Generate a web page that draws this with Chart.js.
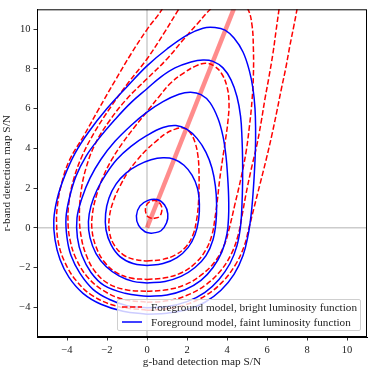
<!DOCTYPE html>
<html>
<head>
<meta charset="utf-8">
<script src="https://cdn.jsdelivr.net/npm/chart.js@4"></script>
<style>
  body { margin:0; background:#fff; }
  #wrap { position:relative; width:374px; height:374px; }
  #legend {
    position:absolute; left:117px; top:299px; width:242px; height:30px;
    background:rgba(255,255,255,0.8); border:1px solid #cfcfcf; border-radius:2px;
    font:11.2px "Liberation Serif", serif; color:#222;
  }
  .row { position:absolute; left:0; height:14px; white-space:nowrap; }
  .row svg { position:absolute; left:3px; top:2px; }
  .row span { position:absolute; left:33px; top:0; line-height:14px; }
</style>
</head>
<body>
<div id="wrap">
  <canvas id="chart" width="374" height="374"></canvas>
  <div id="legend">
    <div class="row" style="top:0px">
      <svg width="22" height="10"><line x1="1" y1="5" x2="21" y2="5" stroke="#ff0000" stroke-width="1.5" stroke-dasharray="5.5 2.4"/></svg>
      <span>Foreground model, bright luminosity function</span>
    </div>
    <div class="row" style="top:15px">
      <svg width="22" height="10"><line x1="1" y1="5" x2="21" y2="5" stroke="#0000ff" stroke-width="1.5"/></svg>
      <span>Foreground model, faint luminosity function</span>
    </div>
  </div>
</div>
<script>
// axis ranges and ticks
const xRange = [-5.5, 11];
const yRange = [-5.5, 11];
const xTicks = [-4, -2, 0, 2, 4, 6, 8, 10];
const yTicks = [-4, -2, 0, 2, 4, 6, 8, 10];

// contours, faint luminosity function (blue)
const faint1 = [[0.26,-0.28],[0.7,-0.15],[0.98,0.25],[1.04,0.7],[0.88,1.15],[0.5,1.42],[0.05,1.38],[-0.35,1.1],[-0.53,0.6],[-0.42,0.12],[-0.1,-0.2],[0.26,-0.28]];
const faint2 = [[0,-1.9],[0.8,-1.8],[1.5,-1.5],[2.05,-1.0],[2.4,-0.35],[2.58,0.4],[2.62,1.2],[2.52,2.0],[2.25,2.65],[1.85,3.15],[1.35,3.45],[0.8,3.52],[0.2,3.42],[-0.45,3.15],[-1.05,2.75],[-1.55,2.2],[-1.9,1.5],[-2.07,0.7],[-2.05,-0.1],[-1.8,-0.85],[-1.35,-1.45],[-0.7,-1.8],[0,-1.9]];
const faint3 = [[0,-2.78],[0.9,-2.7],[1.7,-2.45],[2.4,-2.0],[2.95,-1.4],[3.3,-0.6],[3.45,0.3],[3.48,1.2],[3.42,2.1],[3.25,3.0],[2.95,3.8],[2.5,4.5],[2.0,4.95],[1.45,5.15],[0.8,5.05],[0,4.65],[-0.8,4.1],[-1.5,3.45],[-2.05,2.7],[-2.5,1.9],[-2.8,1.1],[-2.93,0.3],[-2.85,-0.5],[-2.55,-1.3],[-2.05,-1.95],[-1.4,-2.42],[-0.7,-2.7],[0,-2.78]];
const faint4 = [[0,-3.45],[1.0,-3.38],[1.9,-3.12],[2.7,-2.65],[3.3,-2.0],[3.75,-1.2],[4.0,-0.3],[4.08,0.6],[4.08,1.6],[4.03,2.6],[3.95,3.6],[3.8,4.6],[3.55,5.5],[3.15,6.3],[2.7,6.7],[2.18,6.82],[1.6,6.72],[0.8,6.35],[0,5.82],[-0.8,5.15],[-1.6,4.35],[-2.3,3.45],[-2.85,2.5],[-3.25,1.5],[-3.5,0.5],[-3.48,-0.5],[-3.25,-1.4],[-2.8,-2.25],[-2.15,-2.9],[-1.1,-3.3],[0,-3.45]];
const faint5 = [[0,-4.03],[1.0,-3.97],[2.0,-3.72],[2.9,-3.25],[3.6,-2.6],[4.15,-1.8],[4.5,-0.9],[4.68,0.1],[4.75,1.2],[4.78,2.3],[4.78,3.4],[4.75,4.5],[4.68,5.6],[4.5,6.6],[4.2,7.45],[3.8,8.05],[3.3,8.38],[2.8,8.45],[2.2,8.35],[1.4,8.05],[0.7,7.6],[0,7.0],[-0.8,6.3],[-1.6,5.45],[-2.4,4.5],[-3.05,3.6],[-3.55,2.6],[-3.88,1.5],[-4.05,0.5],[-4.0,-0.5],[-3.8,-1.4],[-3.35,-2.3],[-2.7,-3.1],[-1.9,-3.6],[-1.0,-3.92],[0,-4.03]];
const faint6 = [[0,-4.35],[1.0,-4.3],[2.0,-4.12],[2.9,-3.75],[3.7,-3.15],[4.35,-2.35],[4.8,-1.4],[5.05,-0.4],[5.2,0.6],[5.3,1.7],[5.37,2.8],[5.42,3.9],[5.43,5.0],[5.4,6.0],[5.3,7.0],[5.12,7.9],[4.8,8.85],[4.35,9.55],[3.9,9.95],[3.4,10.08],[2.8,10.05],[2.0,9.7],[1.0,9.0],[0,8.15],[-1.0,7.1],[-2.0,6.0],[-2.9,4.85],[-3.6,3.75],[-4.12,2.6],[-4.48,1.5],[-4.66,0.4],[-4.6,-0.6],[-4.35,-1.6],[-3.9,-2.5],[-3.2,-3.3],[-2.3,-3.85],[-1.2,-4.2],[0,-4.35]];

// contours, bright luminosity function (red dashed)
const bright1 = [[0.33,0.47],[0.6,0.55],[0.74,0.85],[0.68,1.18],[0.42,1.37],[0.12,1.3],[-0.06,1.05],[-0.05,0.72],[0.1,0.52],[0.33,0.47]];
const bright2 = [[0,-1.67],[0.75,-1.6],[1.4,-1.38],[1.95,-0.95],[2.3,-0.35],[2.48,0.4],[2.57,1.2],[2.6,2.0],[2.6,2.8],[2.55,3.6],[2.4,4.3],[2.15,4.8],[1.85,5.02],[1.45,4.98],[0.95,4.75],[0.45,4.35],[0,3.95],[-0.5,3.4],[-0.95,2.8],[-1.35,2.1],[-1.68,1.35],[-1.88,0.55],[-1.88,-0.2],[-1.65,-0.85],[-1.2,-1.35],[-0.6,-1.6],[0,-1.67]];
const bright3 = [[0,-2.6],[0.9,-2.52],[1.75,-2.25],[2.45,-1.75],[2.95,-1.1],[3.25,-0.35],[3.4,0.5],[3.52,1.4],[3.63,2.4],[3.77,3.4],[3.92,4.4],[4.05,5.4],[4.1,6.3],[4.0,7.1],[3.72,7.78],[3.35,8.15],[2.95,8.28],[2.45,8.15],[1.85,7.8],[1.2,7.3],[0.6,6.6],[0,5.85],[-0.6,5.1],[-1.2,4.3],[-1.75,3.45],[-2.2,2.55],[-2.52,1.65],[-2.72,0.75],[-2.75,-0.1],[-2.55,-0.95],[-2.15,-1.7],[-1.55,-2.25],[-0.8,-2.53],[0,-2.6]];
const bright4 = [[0,-3.2],[1.0,-3.12],[1.95,-2.85],[2.75,-2.35],[3.4,-1.7],[3.85,-0.9],[4.12,0.0],[4.4,1.2],[4.7,2.5],[4.95,3.8],[5.12,5.1],[5.25,6.4],[5.32,7.7],[5.32,9.0],[5.25,10.2],[5.05,11.0],[4.65,11.45],[4.1,11.5],[3.6,11.3],[3.17,11.0],[2.5,10.25],[1.8,9.45],[1.0,8.5],[0,7.5],[-1.0,6.5],[-1.9,5.35],[-2.6,4.2],[-3.05,3.0],[-3.3,1.8],[-3.38,0.6],[-3.3,-0.4],[-3.05,-1.35],[-2.6,-2.2],[-1.95,-2.8],[-1.05,-3.12],[0,-3.2]];
const bright5 = [[0,-3.75],[1.0,-3.68],[2.0,-3.4],[2.9,-2.9],[3.65,-2.2],[4.2,-1.35],[4.55,-0.4],[4.75,0.6],[4.95,1.7],[5.2,2.9],[5.5,4.2],[5.72,5.4],[5.9,6.5],[6.1,7.6],[6.3,8.8],[6.45,9.9],[6.6,11.0],[6.75,12.2],[4.5,13.6],[2.25,12.1],[1.58,11.0],[0.85,9.8],[0,8.5],[-0.9,7.35],[-1.8,6.1],[-2.6,4.85],[-3.25,3.6],[-3.68,2.4],[-3.9,1.3],[-3.95,0.3],[-3.85,-0.6],[-3.55,-1.55],[-3.0,-2.45],[-2.2,-3.15],[-1.2,-3.6],[0,-3.75]];
const bright6 = [[0,-4.15],[1.0,-4.08],[2.0,-3.85],[2.95,-3.4],[3.75,-2.75],[4.4,-1.9],[4.85,-0.95],[5.1,0.0],[5.35,1.0],[5.65,2.2],[5.95,3.4],[6.25,4.7],[6.5,5.9],[6.72,7.0],[6.95,8.1],[7.15,9.2],[7.35,10.2],[7.5,11.0],[7.7,12.2],[5.0,14.0],[1.4,12.3],[0.75,11.0],[0,9.98],[-0.8,8.75],[-1.6,7.4],[-2.4,6.0],[-3.15,4.65],[-3.9,3.35],[-4.3,2.1],[-4.48,1.1],[-4.52,0.2],[-4.42,-0.8],[-4.1,-1.75],[-3.55,-2.65],[-2.75,-3.4],[-1.5,-3.95],[0,-4.15]];

// thick line from the origin, and the two zero lines
const ridge = [[0,0],[4.45,11.3]];
const zeroV = [[0,-5.5],[0,11]];
const zeroH = [[-5.5,0],[11,0]];

const faint = [faint1, faint2, faint3, faint4, faint5, faint6];
const bright = [bright1, bright2, bright3, bright4, bright5, bright6];

const pts = a => a.map(p => ({ x: p[0], y: p[1] }));
const minus = v => v < 0 ? "\u2212" + Math.abs(v) : String(v);
const serif = "'Liberation Serif', serif";

const datasets = [];
bright.forEach(c => datasets.push({
  data: pts(c), showLine: true, pointRadius: 0, tension: 0.4,
  borderColor: "#ff0000", borderWidth: 1.5, borderDash: [5.5, 2.4], order: 2
}));
faint.forEach(c => datasets.push({
  data: pts(c), showLine: true, pointRadius: 0, tension: 0.4,
  borderColor: "#0000ff", borderWidth: 1.5, order: 1
}));
datasets.push({ data: pts(ridge), showLine: true, pointRadius: 0, borderColor: "rgba(255,0,0,0.45)", borderWidth: 4.5, order: 3 });
datasets.push({ data: pts(zeroV), showLine: true, pointRadius: 0, borderColor: "#cccccc", borderWidth: 1.5, order: 4 });
datasets.push({ data: pts(zeroH), showLine: true, pointRadius: 0, borderColor: "#cccccc", borderWidth: 1.5, order: 4 });

const frame = {
  id: "frame",
  afterDatasetsDraw(chart) {
    const { ctx, chartArea: a } = chart;
    ctx.save();
    ctx.strokeStyle = "#000";
    ctx.lineWidth = 1;
    ctx.strokeRect(a.left + 0.5, a.top + 0.5, a.right - a.left - 1, a.bottom - a.top - 1);
    ctx.restore();
  }
};

function axis(range, ticks, title, isX) {
  return {
    type: "linear", min: range[0], max: range[1],
    afterBuildTicks: s => { s.ticks = ticks.map(v => ({ value: v })); },
    afterFit: s => { if (isX) s.height = 37; else s.width = 37; },
    ticks: { callback: minus, font: { family: serif, size: 10.5 }, color: "#222", padding: 3, maxRotation: 0, autoSkip: false },
    grid: { drawOnChartArea: false, drawTicks: true, tickLength: 3.5, tickColor: "#000", tickWidth: 0.8 },
    border: { display: true, color: "#000", width: 1 },
    title: {
      display: true, text: title, color: "#222",
      font: { family: serif, size: 11.3 },
      padding: isX ? { top: 0, bottom: 5.5 } : { top: 0.5, bottom: 0 }
    }
  };
}

new Chart(document.getElementById("chart"), {
  type: "scatter",
  data: { datasets },
  options: {
    responsive: false,
    animation: false,
    layout: { padding: { left: 0, right: 7, top: 7, bottom: 0 } },
    elements: { line: { capBezierPoints: false } },
    plugins: { legend: { display: false }, tooltip: { enabled: false } },
    scales: {
      x: axis(xRange, xTicks, "g-band detection map S/N", true),
      y: axis(yRange, yTicks, "r-band detection map S/N", false)
    }
  },
  plugins: [frame]
});
</script>
</body>
</html>
